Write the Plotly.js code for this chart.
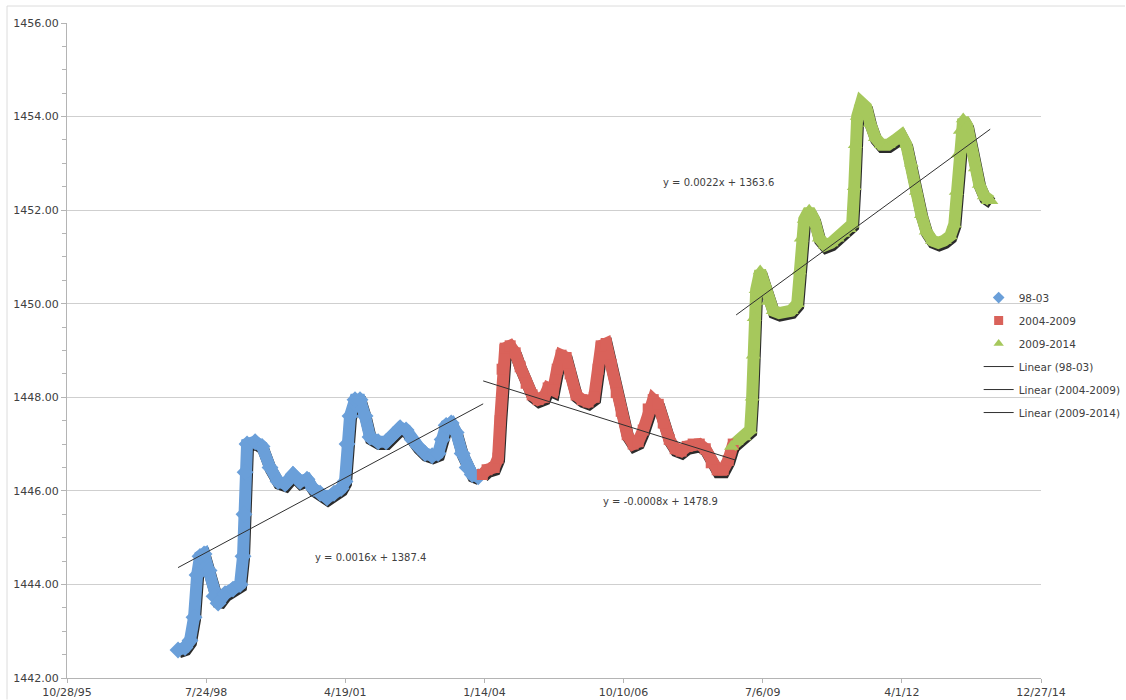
<!DOCTYPE html>
<html>
<head>
<meta charset="utf-8">
<script src="https://cdn.plot.ly/plotly-3.0.1.min.js"></script>
<style>
  html, body { margin: 0; padding: 0; background: #ffffff; }
  #chart { width: 1126px; height: 700px; }
</style>
</head>
<body>
<div id="chart"></div>
<script>
// ---- Data (x = Excel date serial numbers, y = water level) ----
const xTickSerials = [35000, 36000, 37000, 38000, 39000, 40000, 41000, 42000];
const xTickLabels = ["10/28/95", "7/24/98", "4/19/01", "1/14/04", "10/10/06", "7/6/09", "4/1/12", "12/27/14"];

const seriesNames = ["98-03", "2004-2009", "2009-2014"];

const blueDay = [35798, 35848, 35884, 35913, 35935, 35956, 35985, 36021, 36057, 36086,
  36136, 36193, 36244, 36265, 36272, 36280, 36294, 36352, 36402, 36459,
  36517, 36567, 36625, 36675, 36725, 36769, 36819, 36869, 36919, 36970,
  36998, 37013, 37034, 37070, 37106, 37142, 37178, 37236, 37293, 37344,
  37394, 37437, 37480, 37523, 37574, 37624, 37667, 37696, 37725, 37761,
  37797, 37840, 37876, 37912, 37955];
const blueLevel = [1442.6, 1442.65, 1442.8, 1443.3, 1444.2, 1444.6, 1444.65, 1444.3, 1443.75, 1443.6,
  1443.8, 1443.9, 1444.0, 1444.6, 1445.5, 1446.4, 1447.0, 1447.05, 1446.95, 1446.5,
  1446.2, 1446.15, 1446.35, 1446.2, 1446.25, 1446.05, 1445.95, 1445.85, 1445.95, 1446.05,
  1446.2, 1447.0, 1447.6, 1447.95, 1447.95, 1447.6, 1447.15, 1447.05, 1447.05, 1447.2,
  1447.35, 1447.3, 1447.1, 1446.95, 1446.8, 1446.75, 1446.8, 1447.1, 1447.4, 1447.45,
  1447.25, 1446.8, 1446.5, 1446.35, 1446.3];

const redDay = [37985, 38019, 38070, 38098, 38113, 38127, 38149, 38185, 38221, 38257,
  38300, 38343, 38386, 38429, 38458, 38494, 38523, 38551, 38587, 38616,
  38659, 38702, 38745, 38789, 38817, 38839, 38875, 38911, 38947, 38983,
  39026, 39069, 39105, 39141, 39177, 39213, 39249, 39285, 39328, 39371,
  39414, 39457, 39500, 39544, 39587, 39630, 39673, 39716, 39752, 39788];
const redLevel = [1446.35, 1446.45, 1446.5, 1446.7, 1447.5, 1448.6, 1449.05, 1449.1, 1448.95, 1448.65,
  1448.3, 1448.05, 1447.95, 1448.0, 1448.2, 1448.15, 1448.6, 1448.9, 1448.85, 1448.5,
  1448.05, 1447.95, 1447.9, 1448.0, 1448.6, 1449.1, 1449.15, 1448.7, 1448.1, 1447.7,
  1447.2, 1447.0, 1447.05, 1447.3, 1447.75, 1447.95, 1447.85, 1447.45, 1447.1, 1446.9,
  1446.85, 1446.95, 1447.0, 1447.0, 1446.9, 1446.6, 1446.45, 1446.45, 1446.65, 1447.0];

const greenDay = [39775, 39809, 39867, 39910, 39924, 39932, 39939, 39953, 39982, 40011,
  40039, 40075, 40118, 40162, 40205, 40248, 40262, 40277, 40298, 40334,
  40370, 40406, 40449, 40492, 40535, 40578, 40622, 40643, 40658, 40665,
  40679, 40708, 40744, 40773, 40809, 40852, 40902, 40952, 40996, 41032,
  41068, 41104, 41140, 41175, 41219, 41262, 41305, 41348, 41377, 41391,
  41406, 41420, 41441, 41470, 41499, 41528, 41556, 41592, 41620, 41640];
const greenLevel = [1446.95, 1447.05, 1447.15, 1447.3, 1448.0, 1448.9, 1449.7, 1450.3, 1450.7, 1450.45,
  1450.05, 1449.85, 1449.8, 1449.8, 1449.85, 1450.0, 1450.7, 1451.4, 1451.8, 1452.0,
  1451.8, 1451.4, 1451.25, 1451.3, 1451.4, 1451.5, 1451.6, 1451.7, 1452.5, 1453.4,
  1454.0, 1454.3, 1454.2, 1453.85, 1453.55, 1453.4, 1453.4, 1453.5, 1453.6, 1453.4,
  1453.0, 1452.4, 1451.9, 1451.55, 1451.35, 1451.3, 1451.35, 1451.45, 1451.7, 1452.4,
  1453.2, 1453.7, 1453.95, 1453.8, 1453.3, 1452.9, 1452.55, 1452.3, 1452.2, 1452.2];

// Excel linear trendlines: start / end points
const trendDay = [[35798, 37991], [37991, 39802], [39809, 41635]];
const trendLevel = [[1444.36, 1447.86], [1448.35, 1446.66], [1449.76, 1453.73]];
const trendLabels = ["y = 0.0016x + 1387.4", "y = -0.0008x + 1478.9", "y = 0.0022x + 1363.6"];

// ---- Styling ----
const colors = ["#6a9fd9", "#d9625a", "#a6c85c"];
const symbols = ["diamond", "square", "triangle-up"];
const textColor = "#404040";
const font = "DejaVu Sans, Verdana, sans-serif";

const xs = [blueDay, redDay, greenDay];
const ys = [blueLevel, redLevel, greenLevel];

const traces = [];
// shadows (on shifted hidden axes x/y, drawn underneath)
for (let k = 0; k < 3; k++) {
  traces.push({
    x: xs[k], y: ys[k], xaxis: "x", yaxis: "y", type: "scatter", mode: "lines",
    line: { color: "rgba(20,20,20,0.9)", width: 12 },
    hoverinfo: "skip", showlegend: false
  });
}
// bands
for (let k = 0; k < 3; k++) {
  traces.push({
    x: xs[k], y: ys[k], xaxis: "x2", yaxis: "y2", type: "scatter", mode: "lines",
    line: { color: colors[k], width: 12 },
    hoverinfo: "skip", showlegend: false
  });
}
// markers
for (let k = 0; k < 3; k++) {
  traces.push({
    x: xs[k], y: ys[k], xaxis: "x2", yaxis: "y2", type: "scatter", mode: "markers",
    name: seriesNames[k], legendgroup: "g" + k, showlegend: false,
    marker: { color: colors[k], symbol: symbols[k], size: symbols[k] === "square" ? 11 : 13,
      line: { width: 0 } }
  });
}
// legend entries for the series (small legend markers, as in the Excel legend)
for (let k = 0; k < 3; k++) {
  traces.push({
    x: [null], y: [null], xaxis: "x2", yaxis: "y2", type: "scatter", mode: "markers",
    name: seriesNames[k], legendgroup: "g" + k, showlegend: true,
    marker: { color: colors[k], symbol: symbols[k], size: 9, line: { width: 0 } }
  });
}
// trendlines
for (let k = 0; k < 3; k++) {
  traces.push({
    x: trendDay[k], y: trendLevel[k], xaxis: "x2", yaxis: "y2",
    type: "scatter", mode: "lines", name: "Linear (" + seriesNames[k] + ")",
    legendgroup: "t" + k, line: { color: "#303030", width: 1 }
  });
}

const dShiftY = 0.05, dShiftX = 7;
const annPos = [[370, 558], [660, 502], [718, 183]];
const annotations = trendLabels.map((t, k) => ({
  xref: "paper", yref: "paper", xanchor: "center", yanchor: "middle",
  x: (annPos[k][0] - 67) / 974, y: (678.5 - annPos[k][1]) / 655.5, text: t,
  showarrow: false, font: { family: font, size: 10, color: textColor }
}));

const layout = {
  width: 1126, height: 700,
  paper_bgcolor: "#ffffff", plot_bgcolor: "rgba(0,0,0,0)",
  margin: { l: 67, r: 85, t: 23, b: 22, pad: 0, autoexpand: false },
  font: { family: font, size: 11, color: textColor },
  showlegend: true,
  legend: {
    x: 0.936, y: 0.603, xanchor: "left", yanchor: "top",
    bgcolor: "rgba(0,0,0,0)", borderwidth: 0,
    font: { family: font, size: 10.5, color: textColor },
    tracegroupgap: 4, itemwidth: 30
  },
  xaxis: { range: [35000 - dShiftX, 42000 - dShiftX], visible: false, fixedrange: true },
  yaxis: { range: [1442 + dShiftY, 1456 + dShiftY], visible: false, fixedrange: true },
  xaxis2: {
    overlaying: "x", anchor: "y2", side: "bottom",
    range: [35000, 42000], tickmode: "array", tickvals: xTickSerials, ticktext: xTickLabels,
    showgrid: false, zeroline: false, showline: true, linecolor: "#b4b4b4", linewidth: 1,
    ticks: "outside", ticklen: 4, tickcolor: "#b4b4b4",
    tickfont: { family: font, size: 11, color: textColor }
  },
  yaxis2: {
    overlaying: "y", anchor: "x2", side: "left",
    range: [1442, 1456], dtick: 2, tick0: 1442, tickformat: ".2f",
    showgrid: true, gridcolor: "#cfcfcf", gridwidth: 1, zeroline: false,
    showline: true, linecolor: "#b4b4b4", linewidth: 1,
    ticks: "outside", ticklen: 5, tickcolor: "#b4b4b4",
    minor: { dtick: 0.5, ticks: "outside", ticklen: 4, tickcolor: "#b4b4b4", showgrid: false },
    tickfont: { family: font, size: 11, color: textColor }
  },
  annotations: annotations,
  shapes: [
    { type: "line", xref: "paper", yref: "paper", layer: "below",
      x0: (7 - 67) / 974, x1: (1125 - 67) / 974, y0: (678.5 - 6) / 655.5, y1: (678.5 - 6) / 655.5,
      line: { color: "#dcdcdc", width: 1 } },
    { type: "line", xref: "paper", yref: "paper", layer: "below",
      x0: (7 - 67) / 974, x1: (7 - 67) / 974, y0: (678.5 - 6) / 655.5, y1: (678.5 - 700) / 655.5,
      line: { color: "#dcdcdc", width: 1 } }
  ]
};

Plotly.newPlot("chart", traces, layout, { displayModeBar: false, staticPlot: true });
</script>
</body>
</html>
